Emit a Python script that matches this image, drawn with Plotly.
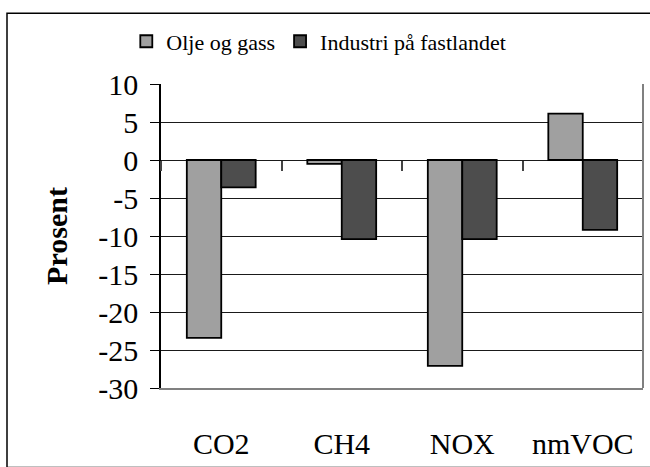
import plotly.graph_objects as go

# Change in emissions by component, percent
categories = ["CO2", "CH4", "NOX", "nmVOC"]
olje_og_gass = [-23.4, -0.5, -27.1, 6.1]
industri_fastlandet = [-3.6, -10.4, -10.4, -9.2]

y_tickvals = [10, 5, 0, -5, -10, -15, -20, -25, -30]
y_ticktext = ["10", "5", "0", "-5", "-10", "-15", "-20", "-25", "-30"]

SERIF = "Times New Roman"
Y_MIN, Y_MAX = -30, 10

fig = go.Figure()
fig.add_trace(go.Bar(
    name="Olje og gass", x=categories, y=olje_og_gass,
    marker=dict(color="#a0a0a0", line=dict(color="#000000", width=1.8)),
))
fig.add_trace(go.Bar(
    name="Industri på fastlandet", x=categories, y=industri_fastlandet,
    marker=dict(color="#4d4d4d", line=dict(color="#000000", width=1.8)),
))
# carrier for the category-boundary ticks along the zero line
fig.add_trace(go.Scatter(x=[], y=[], xaxis="x2", showlegend=False, hoverinfo="skip"))

fig.update_layout(
    width=650, height=467,
    margin=dict(l=161, r=7, t=84, b=69),
    paper_bgcolor="white", plot_bgcolor="white",
    font=dict(family=SERIF, size=26),
    barmode="group", bargap=0.4286, bargroupgap=0,
    showlegend=True,
    legend=dict(
        orientation="h", x=-0.072, xanchor="left", y=1.14, yanchor="middle",
        font=dict(family=SERIF, size=22, color="#000000"), bgcolor="rgba(0,0,0,0)",
        traceorder="normal",
    ),
    xaxis=dict(
        type="category", range=[-0.5, 3.5],
        showline=True, linecolor="#808080", linewidth=2,
        showgrid=False, ticks="", zeroline=False,
        tickfont=dict(family=SERIF, size=30, color="#000000"), ticklabelstandoff=28,
    ),
    xaxis2=dict(
        overlaying="x", anchor="free", position=(0 - Y_MIN) / (Y_MAX - Y_MIN),
        range=[-0.5, 3.5], tickvals=[-0.5, 0.5, 1.5, 2.5, 3.5],
        ticks="outside", ticklen=10, tickwidth=1.5, tickcolor="#444444",
        showticklabels=False, showline=False, showgrid=False, zeroline=False,
    ),
    yaxis=dict(
        range=[Y_MIN, Y_MAX], tickvals=y_tickvals, ticktext=y_ticktext,
        showline=True, linecolor="#000000", linewidth=1.5,
        ticks="outside", ticklen=9, tickcolor="#000000",
        showgrid=True, gridcolor="#1a1a1a", gridwidth=1, zeroline=False,
        tickfont=dict(family=SERIF, size=30, color="#000000"), ticklabelstandoff=6,
        title=dict(text="<b>Prosent</b>", font=dict(family=SERIF, size=30, color="#000000"),
                   standoff=22),
    ),
    shapes=[
        # right edge of the plot area
        dict(type="line", xref="paper", yref="paper", x0=1, x1=1, y0=0, y1=1,
             line=dict(color="#808080", width=2)),
        # outer chart frame
        dict(type="rect", xref="paper", yref="paper",
             x0=(7 - 161) / 482, x1=(670 - 161) / 482,
             y0=(398 - 480) / 314, y1=(398 - 11) / 314,
             line=dict(color="#000000", width=1.5), layer="below"),
    ],
)

fig.write_html("out.html")
